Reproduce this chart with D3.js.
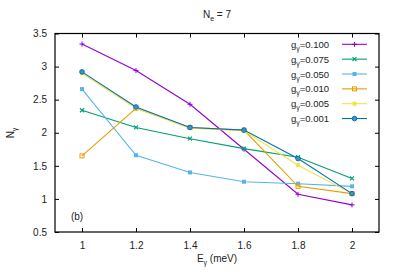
<!DOCTYPE html>
<html><head><meta charset="utf-8">
<script src="https://cdn.jsdelivr.net/npm/d3@7"></script>
<style>body{margin:0;background:#fff}svg{display:block}text{font-family:"Liberation Sans",Arial,sans-serif;fill:#222}</style>
</head><body>
<script>
const energies = [1.0, 1.2, 1.4, 1.6, 1.8, 2.0];
const gLabels = ["0.100","0.075","0.050","0.010","0.005","0.001"];
const g0100 = [3.34, 2.94, 2.43, 1.75, 1.07, 0.91];
const g0075 = [2.34, 2.08, 1.91, 1.76, 1.63, 1.31];
const g0050 = [2.66, 1.66, 1.40, 1.26, 1.23, 1.19];
const g0010 = [1.65, 2.37, 2.08, 2.04, 1.19, 1.08];
const g0005 = [2.90, 2.37, 2.07, 2.03, 1.51, 1.08];
const g0001 = [2.92, 2.39, 2.08, 2.04, 1.61, 1.08];
const xTicks = [1, 1.2, 1.4, 1.6, 1.8, 2];
const yTicks = [0.5, 1, 1.5, 2, 2.5, 3, 3.5];
const colors = ["#9400d3","#009e73","#56b4e9","#e69f00","#f0e442","#0072b2"];
const markers = ["plus","cross","fsquare","osquare","fsquare","circle"];
const seriesVals = [g0100,g0075,g0050,g0010,g0005,g0001];

const W=399,H=279, L=55,R=379,T=33.5,B=232;
const svg=d3.select("body").append("svg").attr("width",W).attr("height",H);
const x=d3.scaleLinear().domain([0.9,2.1]).range([L,R]);
const y=d3.scaleLinear().domain([0.5,3.5]).range([B,T]);
const fmt=d=>d3.format("")(+d.toFixed(1));

const gx=svg.append("g").attr("transform",`translate(0,${B})`)
  .call(d3.axisBottom(x).tickValues(xTicks).tickSize(-4).tickPadding(10).tickFormat(fmt));
const gxt=svg.append("g").attr("transform",`translate(0,${T})`)
  .call(d3.axisTop(x).tickValues(xTicks).tickSize(-4).tickFormat(""));
const gy=svg.append("g").attr("transform",`translate(${L},0)`)
  .call(d3.axisLeft(y).tickValues(yTicks).tickSize(-4).tickPadding(8).tickFormat(fmt));
const gyr=svg.append("g").attr("transform",`translate(${R},0)`)
  .call(d3.axisRight(y).tickValues(yTicks).tickSize(-4).tickFormat(""));
[gx,gxt,gy,gyr].forEach(g=>{g.select(".domain").remove();g.selectAll("line").attr("stroke","#000");g.selectAll("text").attr("font-size",10).attr("fill","#222").style("font-family","'Liberation Sans',Arial,sans-serif");});
svg.append("rect").attr("x",L).attr("y",T).attr("width",R-L).attr("height",B-T).attr("fill","none").attr("stroke","#000").attr("stroke-width",1.2);

function marker(g,type,cx,cy,c){
  if(type==="plus"){g.append("path").attr("d",`M${cx-2.5},${cy}H${cx+2.5}M${cx},${cy-2.5}V${cy+2.5}`).attr("stroke",c).attr("stroke-width",1);}
  else if(type==="cross"){g.append("path").attr("d",`M${cx-2},${cy-2}L${cx+2},${cy+2}M${cx-2},${cy+2}L${cx+2},${cy-2}`).attr("stroke",c).attr("stroke-width",1.1);}
  else if(type==="fsquare"){g.append("rect").attr("x",cx-2).attr("y",cy-2).attr("width",4).attr("height",4).attr("fill",c);}
  else if(type==="osquare"){g.append("rect").attr("x",cx-2).attr("y",cy-2).attr("width",4).attr("height",4).attr("fill","none").attr("stroke",c).attr("stroke-width",1);}
  else if(type==="circle"){g.append("circle").attr("cx",cx).attr("cy",cy).attr("r",2.3).attr("fill","#4a8fc0").attr("stroke",c).attr("stroke-width",1);}
}

const line=d3.line().x((d,i)=>x(energies[i])).y(d=>y(d));
seriesVals.forEach((vals,k)=>{
  const g=svg.append("g");
  g.append("path").datum(vals).attr("d",line).attr("fill","none").attr("stroke",colors[k]).attr("stroke-width",1.1);
  vals.forEach((v,i)=>marker(g,markers[k],x(energies[i]),y(v),colors[k]));
});

gLabels.forEach((lab,k)=>{
  const yy=44.3+k*14.85;
  const t=svg.append("text").attr("x",329).attr("y",yy+3.5).attr("text-anchor","end").attr("font-size",9.5);
  t.append("tspan").text("g");
  t.append("tspan").attr("font-size",7).attr("dy",3).text("γ");
  t.append("tspan").attr("dy",-3).text("="+lab);
  svg.append("line").attr("x1",342).attr("x2",367).attr("y1",yy).attr("y2",yy).attr("stroke",colors[k]).attr("stroke-width",1.1);
  marker(svg,markers[k],354.5,yy,colors[k]);
});

const tt=svg.append("text").attr("x",217).attr("y",18).attr("text-anchor","middle").attr("font-size",10);
tt.append("tspan").text("N");
tt.append("tspan").attr("font-size",7).attr("dy",3).text("e");
tt.append("tspan").attr("dy",-3).text(" = 7");

const xl=svg.append("text").attr("x",217).attr("y",262).attr("text-anchor","middle").attr("font-size",10);
xl.append("tspan").text("E");
xl.append("tspan").attr("font-size",7).attr("dy",3).text("γ");
xl.append("tspan").attr("dy",-3).text(" (meV)");

const yl=svg.append("text").attr("transform","translate(14,133) rotate(-90)").attr("text-anchor","middle").attr("font-size",10);
yl.append("tspan").text("N");
yl.append("tspan").attr("font-size",7).attr("dy",3).text("γ");

svg.append("text").attr("x",77).attr("y",220).attr("text-anchor","middle").attr("font-size",10).text("(b)");
</script>
</body></html>
